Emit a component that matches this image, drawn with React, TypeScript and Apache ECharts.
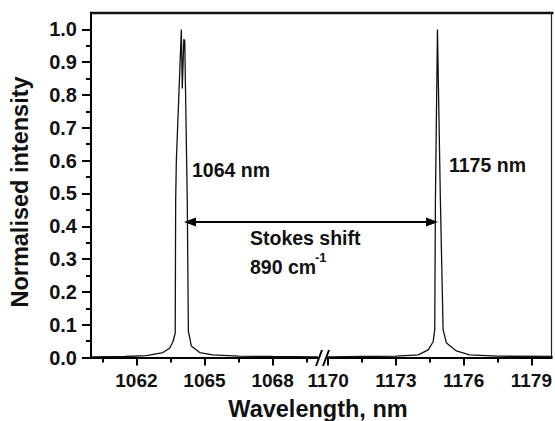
import React, { useEffect, useRef } from "react";
import * as echarts from "echarts";

// Left segment of the broken wavelength axis (nm) and normalised intensity
const leftWavelength = [1060.0, 1061.5, 1062.44, 1063.17, 1063.46, 1063.61, 1063.71, 1063.73, 1063.76, 1063.98, 1064.02, 1064.09, 1064.13, 1064.24, 1064.29, 1064.35, 1064.42, 1064.79, 1065.36, 1066.5, 1068.0, 1070.0];
const leftIntensity = [0.002, 0.003, 0.006, 0.015, 0.028, 0.048, 0.074, 0.48, 0.6, 1.0, 0.82, 0.97, 0.965, 0.48, 0.08, 0.06, 0.035, 0.015, 0.008, 0.004, 0.003, 0.002];

// Right segment
const rightWavelength = [1169.98, 1171.5, 1173.0, 1173.99, 1174.43, 1174.65, 1174.72, 1174.75, 1174.84, 1174.97, 1175.09, 1175.24, 1175.68, 1176.26, 1177.5, 1179.94];
const rightIntensity = [0.002, 0.003, 0.004, 0.008, 0.023, 0.048, 0.085, 0.48, 1.0, 0.48, 0.085, 0.044, 0.02, 0.008, 0.004, 0.003];

const leftMajorTicks = [1062, 1065, 1068];
const leftMinorTicks = [1060.5, 1063.5, 1066.5, 1069.5];
const rightMajorTicks = [1170, 1173, 1176, 1179];
const rightMinorTicks = [1171.5, 1174.5, 1177.5];
const yMajorTicks = [0, 0.1, 0.2, 0.3, 0.4, 0.5, 0.6, 0.7, 0.8, 0.9, 1.0];
const yMinorTicks = [0.05, 0.15, 0.25, 0.35, 0.45, 0.55, 0.65, 0.75, 0.85, 0.95];

const FONT = "'Liberation Sans', Arial, Helvetica, sans-serif";

export default function App() {
  const ref = useRef<HTMLDivElement>(null);

  useEffect(() => {
    if (!ref.current) return;
    const chart = echarts.init(ref.current, undefined, { renderer: "svg" });

    const axisLineStyle = { color: "#000", width: 2 };
    const tickLabel = { fontFamily: FONT, fontWeight: "bold" as const, fontSize: 19, color: "#111" };

    const majorX = (grid: number, min: number, max: number, ticks: number[]) => ({
      type: "value",
      gridIndex: grid,
      position: "bottom",
      min,
      max,
      axisLine: { show: true, lineStyle: axisLineStyle },
      axisTick: { show: true, length: 8, inside: false, lineStyle: { color: "#000", width: 2 }, customValues: ticks },
      axisLabel: { show: true, margin: 13, customValues: ticks, formatter: (v: number) => String(Math.round(v)), ...tickLabel },
      splitLine: { show: false },
    });
    const minorX = (grid: number, min: number, max: number, ticks: number[]) => ({
      type: "value",
      gridIndex: grid,
      position: "bottom",
      min,
      max,
      axisLine: { show: false },
      axisTick: { show: true, length: 5, lineStyle: { color: "#000", width: 2 }, customValues: ticks },
      axisLabel: { show: false, customValues: ticks },
      splitLine: { show: false },
    });

    chart.setOption({
      animation: false,
      backgroundColor: "#fff",
      grid: [
        { left: 91, top: 13, width: 227, height: 344.5 },
        { left: 327.7, top: 13, width: 225.3, height: 344.5 },
      ],
      xAxis: [
        majorX(0, 1060, 1070, leftMajorTicks),
        minorX(0, 1060, 1070, leftMinorTicks),
        majorX(1, 1169.98, 1179.9, rightMajorTicks),
        minorX(1, 1169.98, 1179.9, rightMinorTicks),
      ],
      yAxis: [
        {
          type: "value",
          gridIndex: 0,
          min: 0,
          max: 1.05,
          axisLine: { show: true, lineStyle: axisLineStyle },
          axisTick: { show: true, length: 9, lineStyle: { color: "#000", width: 2 }, customValues: yMajorTicks },
          axisLabel: { show: true, margin: 14, customValues: yMajorTicks, formatter: (v: number) => v.toFixed(1), ...tickLabel, fontSize: 20 },
          splitLine: { show: false },
        },
        {
          type: "value",
          gridIndex: 0,
          position: "left",
          min: 0,
          max: 1.05,
          axisLine: { show: false },
          axisTick: { show: true, length: 5, lineStyle: { color: "#000", width: 2 }, customValues: yMinorTicks },
          axisLabel: { show: false, customValues: yMinorTicks },
          splitLine: { show: false },
        },
        {
          type: "value",
          gridIndex: 1,
          position: "right",
          min: 0,
          max: 1.05,
          axisLine: { show: true, lineStyle: { color: "#222", width: 1.2 } },
          axisTick: { show: false },
          axisLabel: { show: false },
          splitLine: { show: false },
        },
      ],
      series: [
        {
          type: "line",
          xAxisIndex: 0,
          yAxisIndex: 0,
          showSymbol: false,
          symbol: "none",
          lineStyle: { color: "#111", width: 1.3 },
          data: leftWavelength.map((w, i) => [w, leftIntensity[i]]),
        },
        {
          type: "line",
          xAxisIndex: 2,
          yAxisIndex: 2,
          showSymbol: false,
          symbol: "none",
          lineStyle: { color: "#111", width: 1.3 },
          data: rightWavelength.map((w, i) => [w, rightIntensity[i]]),
        },
      ],
      graphic: [
        // top frame
        { type: "line", shape: { x1: 90, y1: 13, x2: 553.5, y2: 13 }, style: { stroke: "#111", lineWidth: 2.6 } },
        // axis break marks
        { type: "line", shape: { x1: 316, y1: 366, x2: 322, y2: 350 }, style: { stroke: "#000", lineWidth: 2 } },
        { type: "line", shape: { x1: 323, y1: 366, x2: 329, y2: 350 }, style: { stroke: "#000", lineWidth: 2 } },
        // Stokes shift arrow
        { type: "line", shape: { x1: 192, y1: 222, x2: 430, y2: 222 }, style: { stroke: "#000", lineWidth: 2.2 } },
        { type: "polygon", shape: { points: [[184, 222], [196, 217.5], [196, 226.5]] }, style: { fill: "#000" } },
        { type: "polygon", shape: { points: [[438, 222], [426, 217.5], [426, 226.5]] }, style: { fill: "#000" } },
        // annotations
        { type: "text", x: 192, y: 170, style: { text: "1064 nm", font: `bold 19.5px ${FONT}`, fill: "#111", align: "left", verticalAlign: "middle" } },
        { type: "text", x: 449, y: 165, style: { text: "1175 nm", font: `bold 19.5px ${FONT}`, fill: "#111", align: "left", verticalAlign: "middle" } },
        { type: "text", x: 250, y: 238, style: { text: "Stokes shift", font: `bold 19.5px ${FONT}`, fill: "#111", align: "left", verticalAlign: "middle" } },
        { type: "text", x: 250, y: 267, style: { text: "890 cm", font: `bold 19.5px ${FONT}`, fill: "#111", align: "left", verticalAlign: "middle" } },
        { type: "text", x: 315, y: 257, style: { text: "-1", font: `bold 13px ${FONT}`, fill: "#111", align: "left", verticalAlign: "middle" } },
        // axis titles
        { type: "text", x: 20, y: 192, rotation: Math.PI / 2, style: { text: "Normalised intensity", font: `bold 23.5px ${FONT}`, fill: "#111", align: "center", verticalAlign: "middle" } },
        { type: "text", x: 318, y: 409, style: { text: "Wavelength, nm", font: `bold 23.5px ${FONT}`, fill: "#111", align: "center", verticalAlign: "middle" } },
      ],
    });

    return () => chart.dispose();
  }, []);

  return (
    <div
      ref={ref}
      style={{ position: "fixed", left: 0, top: 0, width: 555, height: 421, background: "#fff" }}
    />
  );
}
